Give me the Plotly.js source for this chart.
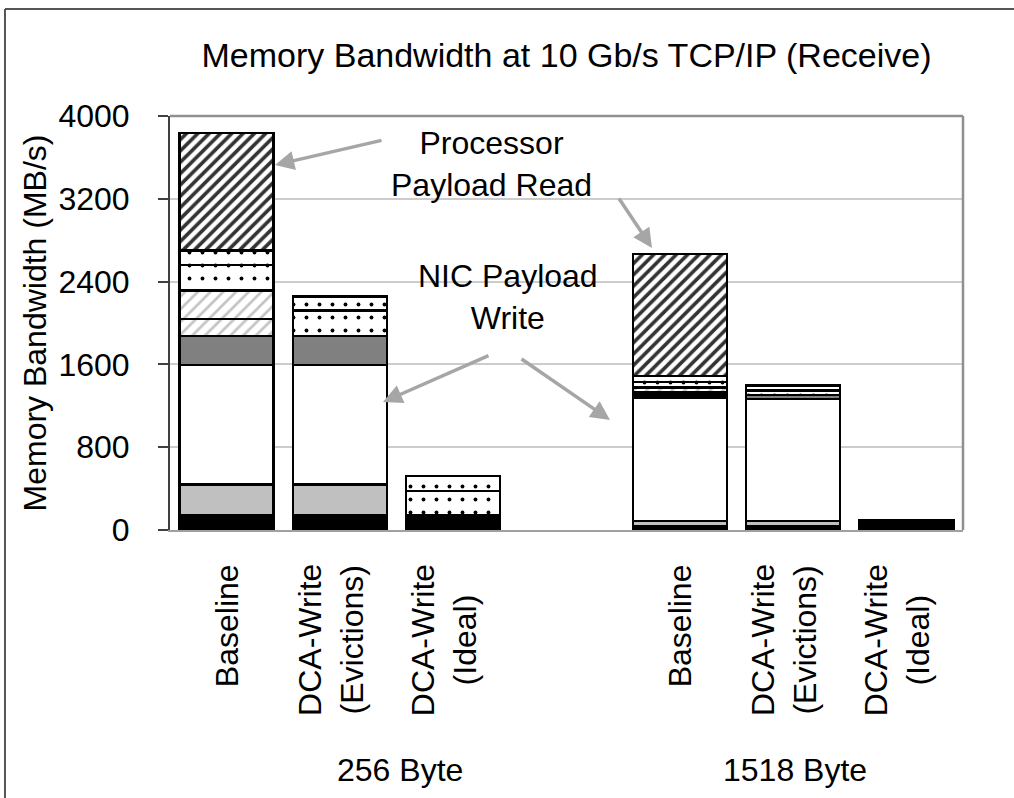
<!DOCTYPE html>
<html>
<head>
<meta charset="utf-8">
<script src="https://cdn.plot.ly/plotly-3.0.1.min.js"></script>
<style>
  html, body { margin: 0; padding: 0; background: #fff; }
  #plot { width: 1014px; height: 798px; }
</style>
</head>
<body>
<div id="plot"></div>
<script>
// packet sizes and configurations (bars left to right)
const packetSizes = ['256 Byte', '1518 Byte'];
const configs = ['Baseline', 'DCA-Write<br>(Evictions)', 'DCA-Write<br>(Ideal)'];

// stacked components, bottom to top, MB/s
// order: 256 Baseline, 256 Evictions, 256 Ideal, 1518 Baseline, 1518 Evictions, 1518 Ideal
const blackPart     = [145, 145, 140, 35, 35, 40];
const lightGrayPart = [296, 296, 0, 50, 50, 0];
const nicPayloadWrite = [1153, 1153, 0, 1195, 1180, 0];
const darkGrayPart  = [280, 280, 0, 25, 40, 0];
const lightHatchA   = [165, 0, 0, 25, 0, 0];
const lightHatchB   = [273, 0, 0, 45, 0, 0];
const dotsLower     = [249, 245, 237, 55, 45, 22];
const dotsUpper     = [138, 135, 145, 60, 45, 28];
const procPayloadRead = [1137, 0, 0, 1177, 0, 0];

const yTicks = [0, 800, 1600, 2400, 3200, 4000];

// category keys, with an empty slot between the two packet sizes
let cats = [];
packetSizes.forEach(size => configs.forEach(c => cats.push(size + '|' + c)));
let catOrder = cats.slice(0, 3).concat(['gap']).concat(cats.slice(3));

const font = 'Liberation Sans, Arial, sans-serif';
const outline = {color: '#000', width: 2.5};

function seg(vals, fill, pattern) {
    let m = {color: fill, line: outline};
    if (pattern) m.pattern = pattern;
    return {
        x: cats, y: vals, type: 'bar', width: 0.83,
        marker: m, hoverinfo: 'y'
    };
}

const lightHatch = {shape: '/', fgcolor: '#c4c4c4', bgcolor: '#ffffff', size: 9, solidity: 0.3};
const dots = {shape: '.', fgcolor: '#000', bgcolor: '#ffffff', size: 13, solidity: 0.07};

let data = [
    seg(blackPart, '#000000'),
    seg(lightGrayPart, '#c0c0c0'),
    seg(nicPayloadWrite, '#ffffff'),
    seg(darkGrayPart, '#808080'),
    seg(lightHatchA, '#ffffff', lightHatch),
    seg(lightHatchB, '#ffffff', lightHatch),
    seg(dotsLower, '#ffffff', dots),
    seg(dotsUpper, '#ffffff', dots),
    seg(procPayloadRead, '#ffffff', {shape: '/', fgcolor: '#333', bgcolor: '#ffffff', size: 8, solidity: 0.45})
];

// rotated bar labels under the axis
let annotations = cats.map((c, i) => {
    let txt = configs[i % 3];
    return {
        x: c, xref: 'x', y: 0, yref: 'paper',
        yanchor: 'top', xanchor: 'center', yshift: -32,
        xshift: txt.indexOf('<br>') > -1 ? -9 : 0,
        text: txt, textangle: -90, showarrow: false,
        align: 'center', font: {family: font, size: 32, color: '#000'}
    };
});

// packet size group labels
const groupX = [0.29, 0.788];
packetSizes.forEach((s, i) => annotations.push({
    x: groupX[i], xref: 'paper', y: -0.58, yref: 'paper',
    xanchor: 'center', yanchor: 'middle',
    text: s, showarrow: false, font: {family: font, size: 32, color: '#000'}
}));

// callout texts and arrows
annotations.push({
    x: 0.406, xref: 'paper', y: 0.883, yref: 'paper', showarrow: false,
    xanchor: 'center', yanchor: 'middle',
    text: 'Processor<br>Payload Read', font: {family: font, size: 32, color: '#000'}
});
annotations.push({
    x: 0.426, xref: 'paper', y: 0.5616, yref: 'paper', showarrow: false,
    xanchor: 'center', yanchor: 'middle',
    text: 'NIC Payload<br>Write', font: {family: font, size: 32, color: '#000'}
});
const arrowStyle = {text: '', showarrow: true, arrowhead: 2, arrowsize: 1.1,
    arrowwidth: 3.5, arrowcolor: '#a6a6a6', xref: 'paper', yref: 'paper'};
[
    [0.1324, 0.8816, 108, -25],
    [0.6078, 0.6812, -34, -51],
    [0.2686, 0.3092, 107, -47],
    [0.5549, 0.2657, -90, -62]
].forEach(a => annotations.push(Object.assign({x: a[0], y: a[1], ax: a[2], ay: a[3]}, arrowStyle)));

let layout = {
    width: 1014, height: 798,
    margin: {l: 170, r: 51, t: 116, b: 268},
    paper_bgcolor: '#fff', plot_bgcolor: '#fff',
    barmode: 'stack', showlegend: false,
    font: {family: font, size: 32, color: '#000'},
    title: {
        text: 'Memory Bandwidth at 10 Gb/s TCP/IP (Receive)',
        font: {family: font, size: 34, color: '#000'},
        x: 0.5, xref: 'paper', y: 0.931, yref: 'container', yanchor: 'middle'
    },
    xaxis: {
        type: 'category', categoryorder: 'array', categoryarray: catOrder,
        range: [-0.5, 6.5], showticklabels: false, ticks: '',
        showgrid: false, zeroline: false,
        showline: true, linecolor: '#a0a0a0', linewidth: 2
    },
    yaxis: {
        range: [0, 4000], tickvals: yTicks, ticktext: yTicks.map(String),
        ticks: 'outside', ticklen: 10, tickwidth: 2, tickcolor: '#404040',
        ticklabelstandoff: 22,
        showline: true, linecolor: '#404040', linewidth: 2,
        showgrid: true, gridcolor: '#cccccc', gridwidth: 2, zeroline: false,
        tickfont: {family: font, size: 32, color: '#000'},
        title: {text: 'Memory Bandwidth (MB/s)', standoff: 2,
            font: {family: font, size: 32, color: '#000'}}
    },
    shapes: [
        // plot frame (top, right)
        {type: 'line', xref: 'paper', yref: 'paper', x0: 0, x1: 1, y0: 1, y1: 1,
            line: {color: '#909090', width: 2.5}},
        {type: 'line', xref: 'paper', yref: 'paper', x0: 1, x1: 1, y0: 0, y1: 1,
            line: {color: '#909090', width: 2.5}},
        // outer figure border (left, top)
        {type: 'line', xref: 'paper', yref: 'paper', x0: -0.2081, x1: -0.2081, y0: -0.7, y1: 1.2585,
            line: {color: '#555', width: 2}},
        {type: 'line', xref: 'paper', yref: 'paper', x0: -0.2081, x1: 1.1, y0: 1.2585, y1: 1.2585,
            line: {color: '#555', width: 2}}
    ],
    annotations: annotations
};

Plotly.newPlot('plot', data, layout, {displayModeBar: false, staticPlot: true});
</script>
</body>
</html>
